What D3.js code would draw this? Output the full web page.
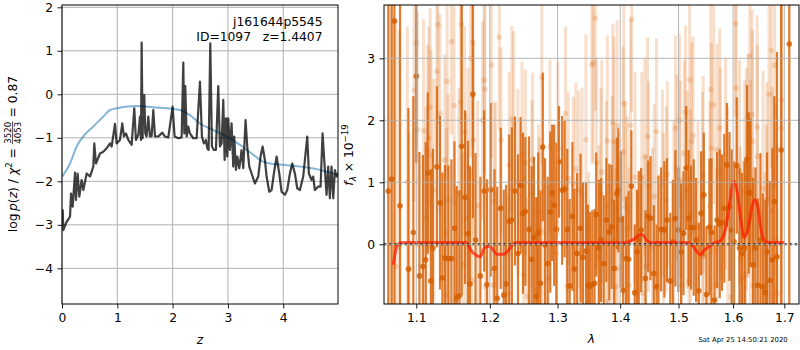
<!DOCTYPE html>
<html>
<head>
<meta charset="utf-8">
<script src="https://cdn.jsdelivr.net/npm/d3@7"></script>
<style>
  body { margin: 0; background: #fff; }
  svg { font-family: "DejaVu Sans", sans-serif; }
</style>
</head>
<body>
<svg id="fig" width="800" height="350"></svg>
<script>
// ---------- redshift fit: log p(z) ----------
const zTicks = [0, 1, 2, 3, 4];
const logpTicks = [-4, -3, -2, -1, 0, 1, 2];

const pzZ = [0.012,0.024,0.084,0.145,0.163,0.193,0.235,0.253,0.283,0.313,0.355,0.386,0.446,0.506,0.566,0.584,0.614,0.687,0.747,0.807,0.867,0.898,0.958,0.988,1.048,1.090,1.120,1.157,1.199,1.259,1.307,1.337,1.380,1.410,1.428,1.440,1.458,1.470,1.488,1.506,1.530,1.560,1.590,1.620,1.651,1.681,1.741,1.813,1.861,1.922,2.000,2.036,2.102,2.163,2.193,2.211,2.229,2.253,2.283,2.313,2.373,2.434,2.494,2.530,2.566,2.602,2.627,2.651,2.681,2.711,2.747,2.783,2.825,2.855,2.886,2.916,2.940,2.964,2.988,3.006,3.036,3.066,3.096,3.114,3.145,3.169,3.205,3.247,3.277,3.319,3.349,3.386,3.428,3.488,3.548,3.590,3.627,3.669,3.699,3.747,3.789,3.831,3.880,3.928,3.970,4.030,4.072,4.120,4.163,4.211,4.253,4.301,4.361,4.434,4.464,4.512,4.542,4.572,4.633,4.675,4.711,4.753,4.783,4.813,4.843,4.873,4.904,4.934,4.964,4.994];
const pzLogP = [-2.64,-3.12,-2.93,-2.81,-2.28,-2.58,-1.80,-2.43,-1.82,-2.35,-1.97,-2.20,-1.82,-1.89,-1.66,-1.13,-1.59,-1.36,-1.32,-1.24,-1.13,-1.20,-0.68,-1.13,-1.05,-0.67,-0.97,-0.90,-1.05,-1.16,-0.32,-1.05,-0.93,-0.51,-1.05,1.19,-1.01,-0.05,-0.02,-0.90,-0.97,-0.51,-0.97,-0.96,-0.36,-0.97,-0.97,-0.88,-0.97,-0.99,-0.28,-0.97,-1.01,-0.99,0.73,-0.90,0.19,-0.97,-0.74,-0.90,-1.01,-1.01,0.29,-0.97,-1.13,-1.05,-1.24,-1.28,1.17,-1.20,-1.28,-1.28,0.19,-1.20,-1.13,-0.13,-1.51,-0.55,-1.43,-0.55,-1.28,-0.67,-1.66,-0.97,-1.74,-1.43,-1.70,-1.28,-1.70,-0.59,-1.20,-1.66,-1.82,-2.05,-1.89,-1.43,-1.20,-1.51,-1.89,-2.24,-2.20,-1.82,-1.43,-1.82,-2.24,-2.31,-2.20,-1.82,-1.59,-1.82,-2.16,-2.20,-1.89,-0.97,-1.82,-1.97,-1.89,-2.20,-2.12,-2.12,-0.90,-1.74,-2.31,-1.66,-2.39,-1.66,-2.39,-1.74,-1.89,-1.82];

const priorZ = [0.006,0.145,0.265,0.416,0.566,0.747,0.867,1.0,1.169,1.410,1.651,1.892,2.133,2.313,2.494,2.735,2.976,3.217,3.458,3.639,3.819,4.0,4.301,4.602,4.904,4.994];
const priorLogP = [-1.89,-1.59,-1.20,-0.92,-0.74,-0.51,-0.36,-0.32,-0.28,-0.27,-0.30,-0.32,-0.36,-0.48,-0.67,-0.82,-0.97,-1.16,-1.39,-1.55,-1.60,-1.62,-1.66,-1.72,-1.82,-1.85];

const objName = "j161644p5545";
const objInfo = "ID=1097   z=1.4407";
const chi2Num = "3520", chi2Den = "4053", chi2Red = "0.87";

// ---------- G141 spectrum ----------
const waveTicks = [1.1, 1.2, 1.3, 1.4, 1.5, 1.6, 1.7];
const fluxTicks = [0, 1, 2, 3];

const binWave = [1.0642,1.0685,1.0719,1.0791,1.0898,1.0962,1.1000,1.1041,1.1087,1.1123,1.1150,1.1191,1.1218,1.1272,1.1313,1.1345,1.1381,1.1426,1.1467,1.1508,1.1539,1.1576,1.1607,1.1653,1.1694,1.1721,1.1761,1.1798,1.1866,1.1920,1.1961,1.2012,1.2066,1.2105,1.2155,1.2199,1.2233,1.2278,1.2317,1.2362,1.2406,1.2445,1.2480,1.2515,1.2569,1.2608,1.2642,1.2677,1.2706,1.2741,1.2775,1.2810,1.2849,1.2889,1.2918,1.2948,1.2983,1.3023,1.3071,1.3109,1.3151,1.3188,1.3231,1.3263,1.3305,1.3359,1.3396,1.3444,1.3476,1.3508,1.3545,1.3582,1.3609,1.3651,1.3688,1.3731,1.3773,1.3821,1.3859,1.3901,1.3944,1.3970,1.4009,1.4049,1.4100,1.4140,1.4186,1.4243,1.4283,1.4311,1.4351,1.4425,1.4471,1.4511,1.4568,1.4614,1.4648,1.4694,1.4751,1.4797,1.4854,1.4899,1.4945,1.4997,1.5046,1.5089,1.5137,1.5180,1.5223,1.5272,1.5315,1.5364,1.5406,1.5455,1.5504,1.5559,1.5596,1.5651,1.5700,1.5749,1.5791,1.5834,1.5883,1.5932,1.5975,1.6018,1.6070,1.6122,1.6168,1.6220,1.6266,1.6298,1.6331,1.6383,1.6428,1.6474,1.6526,1.6572,1.6624,1.6656,1.6708,1.6761,1.6800,1.6852,1.6937,1.7100];
const binFlux = [0.86,1.05,3.60,0.62,-0.40,0.19,2.71,-0.51,-0.36,-0.25,1.15,-0.59,-0.06,1.25,0.67,-0.54,-0.22,-0.23,-0.23,0.26,-0.86,-0.83,1.58,0.76,0.17,-0.64,2.42,0.07,-0.51,0.86,-0.65,0.88,-0.39,-0.87,0.58,-0.82,-0.64,0.37,0.39,0.86,-0.15,0.95,0.50,0.53,0.24,-0.24,0.11,-0.84,0.18,-0.63,1.57,-0.01,-0.31,0.52,0.83,0.63,0.24,1.33,0.87,0.89,0.24,-0.67,0.45,-0.40,-0.15,0.26,-0.21,-0.11,-0.66,-0.68,-0.65,-0.63,0.48,-0.06,0.07,-0.31,0.39,0.20,0.28,-0.39,0.82,0.87,0.40,-0.74,-0.23,-0.24,0.94,-0.78,-0.12,0.08,0.23,-0.55,0.45,0.42,-0.47,-0.68,0.01,0.24,0.24,0.39,-0.59,0.04,0.42,0.23,-0.12,0.18,1.23,0.42,0.27,0.27,0.07,-0.75,0.50,0.80,-0.81,0.28,0.19,-0.90,0.39,0.33,0.35,0.58,1.28,0.61,0.23,0.04,1.27,-0.06,-0.15,-0.06,1.37,0.83,0.83,-0.33,-0.06,-0.66,0.07,-0.68,-0.78,-0.12,-0.58,-0.25,0.69,-0.20,1.52,3.23];
const binErr = [8,7,6,4.5,2.6,2.2,1.4,2.0,1.8,1.9,1.3,1.8,1.6,1.3,1.4,1.7,1.5,1.5,1.6,1.4,1.8,1.7,2.4,1.4,1.5,1.9,2.0,1.4,1.6,1.3,1.7,1.4,1.6,1.8,1.3,1.7,1.6,1.4,1.5,1.2,1.6,1.1,1.3,1.2,1.5,1.5,1.3,1.6,1.3,1.5,1.2,1.4,1.4,1.3,1.1,1.3,1.4,0.9,1.2,1.1,1.3,1.4,1.2,1.3,1.3,1.2,1.2,1.1,1.3,1.2,1.2,1.2,1.0,1.1,1.0,1.1,1.0,1.1,1.0,1.1,0.9,1.0,1.1,1.2,1.0,1.1,0.9,1.1,1.0,1.1,1.0,1.1,0.9,1.0,1.1,1.0,1.1,1.0,1.1,1.0,1.1,1.0,1.1,1.0,1.1,1.0,1.0,1.1,1.0,1.1,1.0,1.1,1.0,1.0,1.1,1.1,1.2,1.2,1.1,1.2,1.1,1.2,1.0,1.2,1.3,1.3,1.1,1.3,1.3,1.4,1.2,1.3,1.2,1.4,1.3,1.4,1.4,1.5,1.5,1.6,1.6,1.8,1.7,3.3,4.0,6.0];

const rawWave = [1.0672,1.0736,1.0779,1.0885,1.0907,1.0971,1.1000,1.1014,1.1096,1.1127,1.1150,1.1164,1.1182,1.1195,1.1231,1.1272,1.1286,1.1313,1.1376,1.1385,1.1399,1.1408,1.1422,1.1467,1.1503,1.1521,1.1567,1.1594,1.1603,1.1626,1.1648,1.1666,1.1694,1.1730,1.1748,1.1761,1.1771,1.1829,1.1897,1.1920,1.1929,1.1938,1.2022,1.2046,1.2061,1.2081,1.2135,1.2160,1.2268,1.2278,1.2317,1.2342,1.2406,1.2465,1.2490,1.2515,1.2540,1.2613,1.2623,1.2687,1.2712,1.2722,1.2761,1.2781,1.2860,1.2884,1.2983,1.3007,1.3124,1.3146,1.3167,1.3247,1.3284,1.3327,1.3380,1.3444,1.3486,1.3539,1.3561,1.3593,1.3614,1.3656,1.3683,1.3699,1.3773,1.3789,1.3805,1.3869,1.3880,1.3896,1.3912,1.3928,1.3949,1.3965,1.4049,1.4060,1.4089,1.4117,1.4146,1.4174,1.4191,1.4248,1.4363,1.4374,1.4414,1.4431,1.4460,1.4477,1.4545,1.4574,1.4614,1.4717,1.4734,1.4785,1.4802,1.4917,1.4945,1.4974,1.5015,1.5034,1.5052,1.5101,1.5125,1.5156,1.5186,1.5199,1.5211,1.5235,1.5260,1.5351,1.5431,1.5443,1.5455,1.5565,1.5583,1.5596,1.5638,1.5687,1.5700,1.5749,1.5761,1.5859,1.5901,1.5962,1.6044,1.6057,1.6122,1.6135,1.6187,1.6220,1.6240,1.6253,1.6285,1.6318,1.6331,1.6363,1.6370,1.6383,1.6461,1.6467,1.6578,1.6611,1.6643,1.6656,1.6695,1.6741,1.6761,1.6806,1.6839,1.6852,1.6937,1.6950];
const rawFlux = [1.05,-0.36,-0.04,1.01,-0.40,2.49,3.25,1.85,1.83,0.42,1.52,1.71,2.21,1.44,0.87,2.79,3.54,2.11,1.36,-0.82,0.18,2.63,0.72,3.27,2.24,-0.90,0.82,2.30,3.55,-0.33,1.82,0.42,1.25,3.00,-0.58,3.26,1.68,0.62,2.00,2.65,2.50,-0.68,2.89,-0.66,0.69,0.80,3.34,1.68,-0.79,1.28,2.02,1.94,1.01,1.44,-0.49,1.32,-0.84,0.82,1.37,-0.74,0.53,0.23,2.69,0.20,-0.55,1.58,-0.15,1.54,2.11,-0.68,1.06,0.98,1.21,0.88,0.82,1.69,-0.63,2.89,2.93,3.65,1.31,-0.20,0.82,1.17,0.61,1.67,-0.92,0.69,1.96,1.65,0.07,-0.68,1.91,-0.39,1.49,2.27,0.61,0.26,-0.66,1.92,3.63,1.08,1.08,-0.79,1.41,-0.36,1.74,0.93,-0.04,0.77,1.82,0.99,0.20,0.72,1.13,0.39,1.87,1.23,2.00,1.04,-0.66,1.47,2.13,0.88,-0.59,2.65,0.47,1.66,1.75,0.28,0.76,1.12,-0.20,0.61,2.50,1.55,2.25,-0.66,1.53,1.88,1.15,1.30,0.42,-0.85,3.56,2.52,1.17,-0.23,-0.55,0.85,-0.49,1.05,1.26,3.04,0.85,2.09,1.66,-0.66,1.89,1.42,0.90,-0.74,0.03,0.72,2.42,3.13,0.54,2.89,0.07,-0.79,1.87,2.33];
const rawErr = [5,4,3.5,2.5,2.2,1.8,1.7,1.9,1.8,1.8,1.7,1.8,1.6,1.7,1.8,1.5,1.6,1.6,1.7,1.8,1.7,1.6,1.7,1.5,1.6,1.8,1.7,1.6,1.6,1.8,1.7,1.7,1.6,1.6,1.8,1.7,1.6,1.7,1.6,1.5,1.6,1.7,1.5,1.6,1.6,1.5,1.5,1.5,1.6,1.5,1.5,1.5,1.5,1.5,1.6,1.5,1.6,1.5,1.4,1.5,1.4,1.5,1.4,1.4,1.5,1.4,1.4,1.4,1.4,1.4,1.4,1.4,1.4,1.6,1.7,1.7,1.8,1.6,1.6,1.5,1.7,1.8,1.7,1.8,1.7,1.7,1.9,1.7,1.6,1.7,1.8,1.9,1.7,1.8,1.7,1.6,1.7,1.8,1.9,1.7,1.5,1.7,1.7,1.9,1.6,1.8,1.6,1.7,1.6,1.5,1.5,1.5,1.6,1.5,1.5,1.6,1.5,1.5,1.4,1.6,1.7,1.5,1.4,1.6,1.7,1.4,1.7,1.6,1.6,1.7,1.7,1.6,1.7,1.7,1.5,1.7,1.6,1.9,1.7,1.6,1.7,1.7,1.8,1.9,1.5,1.6,1.8,1.8,1.9,1.8,1.9,1.8,1.8,1.6,1.8,1.7,1.8,1.9,1.8,1.8,1.9,1.9,1.9,1.9,1.8,1.9,2.0,2.0,2.2,2.4,3.0,3.5];

const modelWave = [1.0706,1.0750,1.0810,1.1660,1.1750,1.1866,1.1920,1.1980,1.2027,1.2100,1.2200,1.2273,1.2347,1.2396,1.4110,1.4225,1.4340,1.4380,1.4454,1.4511,1.5150,1.5241,1.5333,1.5394,1.5455,1.5547,1.5639,1.5761,1.5853,1.5944,1.6018,1.6083,1.6148,1.6213,1.6279,1.6363,1.6415,1.6474,1.6539,1.6604,1.6689,1.7012];
const modelFlux = [-0.33,-0.03,0.03,0.03,-0.12,-0.20,-0.06,-0.03,-0.06,-0.16,-0.16,-0.09,0.02,0.03,0.03,0.08,0.16,0.15,0.06,0.03,0.03,-0.01,-0.12,-0.17,-0.10,-0.04,0.02,0.06,0.23,0.72,1.02,0.82,0.39,0.11,0.23,0.61,0.72,0.61,0.23,0.06,0.03,0.03];

const stamp = "Sat Apr 25 14:50:21 2020";

// ---------- layout ----------
const svg = d3.select("#fig");
const FS = 12.3;
const G141 = "#d55e00";
const gridColor = "#b0b0b0";

const P1 = {left: 62, right: 338, top: 5, bottom: 304};
const P2 = {left: 384, right: 799, top: 5, bottom: 304};

const x1 = d3.scaleLinear().domain([0, 4.99]).range([P1.left, P1.right]);
const y1 = d3.scaleLinear().domain([-4.82, 2.053]).range([P1.bottom, P1.top]);
const x2 = d3.scaleLog().domain([1.0588, 1.7297]).range([P2.left, P2.right]);
const y2 = d3.scaleLinear().domain([-0.963, 3.86]).range([P2.bottom, P2.top]);

const defs = svg.append("defs");
function clip(id, P) {
  defs.append("clipPath").attr("id", id).append("rect")
    .attr("x", P.left).attr("y", P.top)
    .attr("width", P.right - P.left).attr("height", P.bottom - P.top);
}
clip("c1", P1); clip("c2", P2);

function grid(g, xs, ys, xt, yt, P) {
  g.selectAll(null).data(xt).join("line")
    .attr("x1", d => xs(d)).attr("x2", d => xs(d))
    .attr("y1", P.top).attr("y2", P.bottom)
    .attr("stroke", gridColor).attr("stroke-width", 1);
  g.selectAll(null).data(yt).join("line")
    .attr("x1", P.left).attr("x2", P.right)
    .attr("y1", d => ys(d)).attr("y2", d => ys(d))
    .attr("stroke", gridColor).attr("stroke-width", 1);
}

function axes(xs, ys, xt, yt, P, xfmt, yfmt) {
  const gx = svg.append("g").attr("transform", `translate(0,${P.bottom})`)
    .call(d3.axisBottom(xs).tickValues(xt).tickFormat(xfmt).tickSize(4.5).tickPadding(5));
  const gy = svg.append("g").attr("transform", `translate(${P.left},0)`)
    .call(d3.axisLeft(ys).tickValues(yt).tickFormat(yfmt).tickSize(4.5).tickPadding(4.5));
  [gx, gy].forEach(g => {
    g.select(".domain").remove();
    g.selectAll("text").attr("font-size", FS).attr("font-family", "DejaVu Sans").attr("fill", "#000");
    g.selectAll("line").attr("stroke", "#000").attr("stroke-width", 0.9);
  });
  svg.append("rect").attr("x", P.left).attr("y", P.top)
    .attr("width", P.right - P.left).attr("height", P.bottom - P.top)
    .attr("fill", "none").attr("stroke", "#000").attr("stroke-width", 1);
}

// ---------- left panel ----------
grid(svg.append("g"), x1, y1, zTicks, logpTicks, P1);
const g1 = svg.append("g").attr("clip-path", "url(#c1)");

g1.append("path")
  .datum(d3.zip(priorZ, priorLogP))
  .attr("d", d3.line().x(d => x1(d[0])).y(d => y1(d[1])).curve(d3.curveMonotoneX))
  .attr("fill", "none").attr("stroke", "#1f77b4").attr("stroke-opacity", 0.55)
  .attr("stroke-width", 2);

g1.append("path")
  .datum(d3.zip(pzZ, pzLogP))
  .attr("d", d3.line().x(d => x1(d[0])).y(d => y1(d[1])))
  .attr("fill", "none").attr("stroke", "#000").attr("stroke-opacity", 0.75)
  .attr("stroke-width", 2.2).attr("stroke-linejoin", "round");

axes(x1, y1, zTicks, logpTicks, P1, d3.format("d"), d3.format("d"));

svg.append("text").attr("x", 322.5).attr("y", 26.3).attr("text-anchor", "end")
  .attr("font-size", FS).text(objName);
svg.append("text").attr("x", 322.5).attr("y", 40.8).attr("text-anchor", "end")
  .attr("font-size", FS).style("white-space", "pre").text(objInfo);

svg.append("text").attr("x", (P1.left + P1.right) / 2).attr("y", 343.5)
  .attr("text-anchor", "middle").attr("font-size", FS).attr("font-style", "italic").text("z");

// y label with stacked fraction, laid out along the rotated baseline
(function () {
  const g = svg.append("g").attr("transform", "translate(16.8,154) rotate(-90)");
  const inner = g.append("g");
  let u = 0;
  const parts = [
    {t: "log\u2009", it: false}, {t: "p", it: true}, {t: "(", it: false}, {t: "z", it: true},
    {t: ")", it: false}, {t: " / ", it: false}, {t: "\u03c7", it: true}
  ];
  function put(t, it, size, dy) {
    const el = inner.append("text").attr("x", u).attr("y", dy || 0)
      .attr("font-size", size).attr("font-style", it ? "italic" : "normal")
      .style("white-space", "pre").text(t);
    const w = el.node().getComputedTextLength();
    u += w;
    return w;
  }
  parts.forEach(p => put(p.t, p.it, FS));
  put("2", false, FS * 0.7, -5);
  put(" = ", false, FS);
  // fraction
  const fs = FS * 0.7;
  const tn = inner.append("text").attr("y", -6.2).attr("font-size", fs).text(chi2Num);
  const td = inner.append("text").attr("y", 4.6).attr("font-size", fs).text(chi2Den);
  const wn = tn.node().getComputedTextLength(), wd = td.node().getComputedTextLength();
  const wf = Math.max(wn, wd) + 1;
  tn.attr("x", u + (wf - wn) / 2);
  td.attr("x", u + (wf - wd) / 2);
  inner.append("line").attr("x1", u).attr("x2", u + wf).attr("y1", -4.2).attr("y2", -4.2)
    .attr("stroke", "#000").attr("stroke-width", 0.7);
  u += wf;
  put(" = " + chi2Red, false, FS);
  inner.attr("transform", `translate(${-u / 2},0)`);
})();

// ---------- right panel ----------
const g2 = svg.append("g").attr("clip-path", "url(#c2)");

function errSeries(g, wave, flux, err, opacity, bw, r) {
  const d = d3.range(wave.length).map(i => ({w: wave[i], f: flux[i], e: err[i]}));
  g.append("g").selectAll("line").data(d).join("line")
    .attr("x1", d => x2(d.w)).attr("x2", d => x2(d.w))
    .attr("y1", d => y2(d.f - d.e)).attr("y2", d => y2(d.f + d.e))
    .attr("stroke", G141).attr("stroke-opacity", opacity).attr("stroke-width", bw);
  g.append("g").selectAll("circle").data(d).join("circle")
    .attr("cx", d => x2(d.w)).attr("cy", d => y2(d.f)).attr("r", r)
    .attr("fill", G141).attr("fill-opacity", opacity);
}

errSeries(g2, rawWave, rawFlux, rawErr, 0.2, 3, 2.8);
errSeries(g2, binWave, binFlux, binErr, 0.82, 2.2, 2.8);

grid(svg.append("g").attr("opacity", 0.9), x2, y2, waveTicks, fluxTicks, P2);

g2.append("path")
  .datum(d3.zip(modelWave, modelFlux))
  .attr("d", d3.line().x(d => x2(d[0])).y(d => y2(d[1])).curve(d3.curveMonotoneX))
  .attr("fill", "none").attr("stroke", "#ff1a00").attr("stroke-opacity", 0.72)
  .attr("stroke-width", 3).attr("stroke-linejoin", "round");

g2.append("line")
  .attr("x1", P2.left).attr("x2", P2.right).attr("y1", y2(0)).attr("y2", y2(0))
  .attr("stroke", "#000").attr("stroke-width", 2)
  .attr("stroke-dasharray", "2.2,3");

axes(x2, y2, waveTicks, fluxTicks, P2, d3.format(".1f"), d3.format("d"));

svg.append("text").attr("x", (P2.left + P2.right) / 2).attr("y", 343)
  .attr("text-anchor", "middle").attr("font-size", FS).attr("font-style", "italic").text("\u03bb");

// f_lambda x 10^-19 label
(function () {
  const t = svg.append("text").attr("transform", "translate(352.8,155) rotate(-90)")
    .attr("text-anchor", "middle").attr("font-size", FS);
  t.append("tspan").attr("font-style", "italic").text("f");
  t.append("tspan").attr("font-style", "italic").attr("font-size", FS * 0.7).attr("dy", 3).text("\u03bb");
  t.append("tspan").attr("dy", -3).style("white-space", "pre").text(" \u00d7 10");
  t.append("tspan").attr("font-size", FS * 0.7).attr("dy", -5).text("\u221219");
})();

svg.append("text").attr("x", 787.7).attr("y", 341.7).attr("text-anchor", "end")
  .attr("font-size", 6.9).text(stamp);
</script>
</body>
</html>
